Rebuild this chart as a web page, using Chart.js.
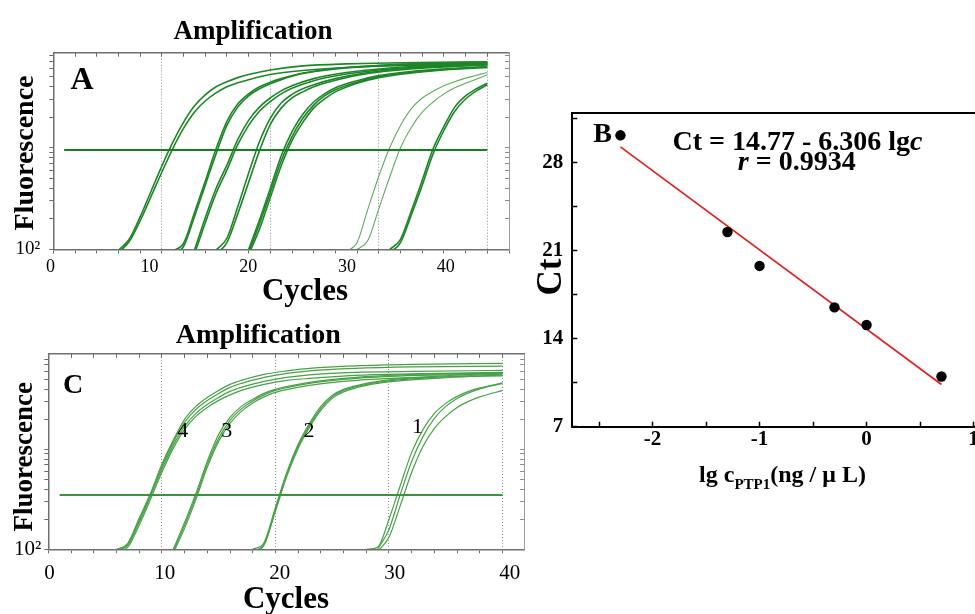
<!DOCTYPE html>
<html>
<head>
<meta charset="utf-8">
<script src="https://cdn.jsdelivr.net/npm/chart.js@4.4.1/dist/chart.umd.min.js"></script>
<style>
  html, body { margin: 0; padding: 0; background: #ffffff; }
  body { width: 975px; height: 614px; position: relative; overflow: hidden; }
  canvas { position: absolute; }
</style>
</head>
<body>
<canvas id="chartA" width="520" height="310" style="left:0px;top:0px;width:520px;height:310px"></canvas>
<canvas id="chartC" width="532" height="304" style="left:0px;top:310px;width:532px;height:304px"></canvas>
<canvas id="chartB" width="465" height="460" style="left:520px;top:60px;width:465px;height:460px"></canvas>
<script>
// ---------------- DATA ----------------
// Panel A: amplification curves, each point = [cycle, fluorescence]
const ampA_ct11 = [
  [[6,98],[7,126],[8,209],[9,372],[10,661],[11,1122],[12,1778],[13,2570],[14,3311],[15,3981],[16,4467],[17,4898],[18,5248],[20,5821],[23,6383],[27,6683],[32,6839],[40,6998]],
  [[6,93],[7,120],[8,191],[9,331],[10,575],[11,977],[12,1549],[13,2239],[14,2884],[15,3467],[16,3981],[17,4365],[18,4677],[20,5248],[23,5754],[27,6166],[32,6457],[40,6683]]
];
const ampA_ct15 = [
  [[11,97],[12,115],[13,229],[14,468],[15,977],[16,1820],[17,2692],[18,3388],[19,3981],[20,4416],[21,4786],[23,5433],[26,6026],[30,6457],[35,6761],[40,6918]],
  [[11,90],[12,107],[13,209],[14,427],[15,871],[16,1660],[17,2512],[18,3236],[19,3802],[20,4266],[21,4677],[23,5370],[26,5957],[30,6383],[35,6683],[40,6839]]
];
const ampA_ct17 = [
  [[13,98],[14,204],[15,398],[16,676],[17,1202],[18,1862],[19,2512],[20,3090],[21,3631],[22,4074],[24,4786],[27,5495],[31,6095],[35,6457],[40,6761]],
  [[13,89],[14,182],[15,355],[16,603],[17,1072],[18,1660],[19,2291],[20,2851],[21,3388],[22,3846],[24,4571],[27,5309],[31,5957],[35,6310],[40,6607]]
];
const ampA_ct19 = [
  [[15,99],[16,129],[17,263],[18,562],[19,1148],[20,1950],[21,2754],[22,3350],[23,3802],[24,4169],[26,4786],[29,5495],[33,6095],[37,6457],[40,6683]],
  [[15,90],[16,117],[17,224],[18,457],[19,933],[20,1698],[21,2455],[22,3090],[23,3548],[24,3981],[26,4624],[29,5370],[33,5957],[37,6310],[40,6531]]
];
const ampA_ct22 = [
  [[18,100],[19,195],[20,398],[21,832],[22,1445],[23,2138],[24,2818],[25,3388],[26,3890],[28,4571],[30,5129],[33,5623],[36,5957],[40,6310]],
  [[18,94],[19,178],[20,363],[21,741],[22,1288],[23,1950],[24,2630],[25,3236],[26,3715],[28,4416],[30,5012],[33,5495],[36,5888],[40,6237]],
  [[18,89],[19,158],[20,324],[21,661],[22,1175],[23,1778],[24,2455],[25,3020],[26,3548],[28,4315],[30,4898],[33,5433],[36,5821],[40,6166]]
];
const ampA_ct31 = [
  [[27,95],[28,117],[29,251],[30,525],[31,1000],[32,1660],[33,2427],[34,3090],[35,3589],[36,4074],[37,4467],[38,4842],[40,5495]],
  [[28,100],[29,123],[30,251],[31,513],[32,1000],[33,1585],[34,2239],[35,2818],[36,3388],[37,3890],[38,4315],[40,5188]]
];
const ampA_ct35 = [
  [[31,100],[32,126],[33,240],[34,479],[35,977],[36,1622],[37,2512],[38,3236],[39,3802],[40,4315]],
  [[31,93],[32,117],[33,219],[34,427],[35,871],[36,1479],[37,2291],[38,3020],[39,3631],[40,4169]]
];
const thresholdA = 950;
const thresholdSpanA = [1, 40];

// Panel C: amplification curves (groups labelled 4, 3, 2, 1)
const ampC_curve4 = [
  [[6,100],[7,115],[8,204],[9,363],[10,708],[11,1230],[12,1995],[13,2692],[14,3311],[15,3890],[16,4467],[17,4898],[19,5623],[21,6095],[23,6457],[27,6839],[32,7079],[40,7244]],
  [[6,98],[7,112],[8,195],[9,355],[10,676],[11,1175],[12,1862],[13,2512],[14,3090],[15,3631],[16,4169],[17,4571],[19,5248],[21,5754],[23,6095],[27,6457],[32,6683],[40,6808]],
  [[6,96],[7,110],[8,186],[9,339],[10,631],[11,1096],[12,1698],[13,2291],[14,2818],[15,3311],[16,3802],[17,4169],[19,4786],[21,5248],[23,5559],[27,5888],[32,6026],[40,6166]],
  [[6,93],[7,105],[8,174],[9,316],[10,589],[11,1023],[12,1585],[13,2138],[14,2630],[15,3090],[16,3508],[17,3890],[19,4467],[21,4898],[23,5129],[27,5495],[32,5689],[40,5888]]
];
const ampC_curve3 = [
  [[11,100],[12,186],[13,363],[14,759],[15,1413],[16,2089],[17,2692],[18,3162],[19,3631],[20,3981],[23,4677],[26,5129],[30,5495],[35,5689],[40,5834]],
  [[11,95],[12,174],[13,339],[14,708],[15,1288],[16,1950],[17,2541],[18,3055],[19,3508],[20,3890],[23,4571],[26,5012],[30,5370],[35,5559],[40,5689]],
  [[11,92],[12,162],[13,316],[14,661],[15,1202],[16,1820],[17,2399],[18,2917],[19,3350],[20,3715],[23,4365],[26,4786],[30,5129],[35,5309],[40,5433]]
];
const ampC_curve2 = [
  [[18,100],[19,117],[20,263],[21,589],[22,1122],[23,1820],[24,2692],[25,3467],[26,3981],[28,4571],[30,4955],[34,5370],[40,5821]],
  [[18,96],[19,112],[20,251],[21,562],[22,1072],[23,1738],[24,2570],[25,3350],[26,3890],[28,4467],[30,4842],[34,5248],[40,5689]],
  [[18,93],[19,110],[20,240],[21,537],[22,1023],[23,1660],[24,2455],[25,3236],[26,3758],[28,4365],[30,4732],[34,5129],[40,5559]]
];
const ampC_curve1 = [
  [[28,100],[29,105],[30,200],[31,437],[32,933],[33,1585],[34,2291],[35,2884],[36,3388],[37,3802],[38,4121],[40,4624]],
  [[29,100],[30,158],[31,355],[32,759],[33,1349],[34,2042],[35,2692],[36,3236],[37,3673],[38,4027],[40,4571]],
  [[29,95],[30,132],[31,275],[32,589],[33,1072],[34,1622],[35,2138],[36,2630],[37,3020],[38,3350],[40,3890]]
];
const curveLabelsC = ['4', '3', '2', '1'];
const thresholdC = 350;
const thresholdSpanC = [1, 40];

// Shared cycle axis ticks / labels
const cycleTickMarksA = [0,2,4,6,8,10,12,14,16,18,20,22,24,26,28,30,32,34,36,38,40,42];
const cycleTickMarksC = [0,2,4,6,8,10,12,14,16,18,20,22,24,26,28,30,32,34,36,38,40];
const cycleTickLabels = [0, 10, 20, 30, 40];
const fluorTicks = [100,200,300,400,500,600,700,800,900,1000,2000,3000,4000,5000,6000,7000,8000];

// Panel B: standard curve
const lgc = [-2.3, -1.3, -1, -0.3, 0, 0.7];
const ctValues = [30.2, 22.5, 19.8, 16.5, 15.1, 11.0];
const fitIntercept = 14.77;
const fitSlope = -6.306;
const fitRange = [-2.3, 0.7];
const lgcTicks = [-2, -1, 0, 1];
const lgcMinorTicks = [-2.5, -1.5, -0.5, 0.5];
const ctTicks = [7, 14, 21, 28];
const ctMinorTicks = [10.5, 17.5, 24.5, 31.5];

// ---------------- HELPERS ----------------
const serif = '"Liberation Serif", "Times New Roman", serif';
Chart.defaults.font.family = serif;
Chart.defaults.color = '#000';

function curveSets(groups, color, width) {
  const out = [];
  groups.forEach(g => g.forEach(c => out.push({
    data: c.map(p => ({ x: p[0], y: p[1] })),
    borderColor: color, borderWidth: width, pointRadius: 0,
    cubicInterpolationMode: 'monotone', fill: false
  })));
  return out;
}
function thresholdSet(level, span, color, width) {
  return { data: span.map(x => ({ x, y: level })), borderColor: color, borderWidth: width, pointRadius: 0, fill: false };
}
function textPlugin(id, items) {
  return {
    id,
    afterDraw(chart) {
      const ctx = chart.ctx;
      items.forEach(it => {
        ctx.save();
        ctx.translate(it.x, it.y);
        if (it.rotate) ctx.rotate(it.rotate);
        ctx.fillStyle = it.color || '#000';
        ctx.textBaseline = 'alphabetic';
        ctx.textAlign = 'left';
        const parts = it.parts || [{ text: it.text, font: it.font }];
        const widths = parts.map(p => { ctx.font = p.font; return ctx.measureText(p.text).width; });
        const total = widths.reduce((a, b) => a + b, 0);
        let x0 = it.align === 'left' ? 0 : -total / 2;
        parts.forEach((p, i) => { ctx.font = p.font; ctx.fillText(p.text, x0, p.dy || 0); x0 += widths[i]; });
        ctx.restore();
      });
    }
  };
}
const setTicks = vals => ax => { ax.ticks = vals.map(v => ({ value: v })); };

function cycleAxis(max, marks) {
  return {
    type: 'linear', position: 'bottom', min: 0, max, bounds: 'data',
    afterBuildTicks: setTicks(marks),
    ticks: { display: false },
    grid: {
      drawOnChartArea: true, drawTicks: true, tickLength: 4, tickWidth: 1, tickColor: '#6a6a6a', lineWidth: 1,
      color: c => (c.tick && c.tick.value > 0 && c.tick.value % 10 === 0) ? '#8f8f8f' : 'rgba(0,0,0,0)'
    },
    border: { display: true, color: '#707070', width: 1.5, dash: [1, 2] },
    afterFit: s => { s.height = 0; }
  };
}
function labelAxis(min, max, size, pad, height) {
  return {
    type: 'linear', position: 'bottom', min, max, bounds: 'data',
    afterBuildTicks: setTicks(cycleTickLabels),
    ticks: { autoSkip: false, maxRotation: 0, minRotation: 0, padding: pad, color: '#000',
             font: { family: serif, size }, callback: v => String(v) },
    grid: { display: false, drawTicks: false },
    border: { display: false },
    afterFit: s => { s.height = height; }
  };
}
function topAxis(max, marks, height) {
  return {
    type: 'linear', position: 'top', min: 0, max, bounds: 'data',
    afterBuildTicks: setTicks(marks),
    ticks: { display: false },
    grid: { drawOnChartArea: false, drawTicks: true, tickLength: -4, tickColor: '#6a6a6a', tickWidth: 1 },
    border: { color: '#707070', width: 1.5 },
    afterFit: s => { s.height = height; }
  };
}
function fluorAxis(max, size, pad, width) {
  return {
    type: 'logarithmic', position: 'left', min: 100, max, bounds: 'data',
    afterBuildTicks: setTicks(fluorTicks.filter(v => v < max)),
    ticks: { autoSkip: false, padding: pad, color: '#000', font: { family: serif, size },
             callback: v => (v === 100 ? '10²' : '') },
    grid: { drawOnChartArea: false, drawTicks: true, tickLength: 4, tickColor: '#6a6a6a', tickWidth: 1 },
    border: { color: '#707070', width: 1.5 },
    afterFit: s => { s.width = width; }
  };
}
function rightAxis(max, width) {
  return {
    type: 'logarithmic', position: 'right', min: 100, max, bounds: 'data',
    afterBuildTicks: setTicks(fluorTicks.filter(v => v < max)),
    ticks: { display: false },
    grid: { drawOnChartArea: false, drawTicks: true, tickLength: -4, tickColor: '#8a8a8a', tickWidth: 1 },
    border: { color: '#9a9a9a', width: 1 },
    afterFit: s => { s.width = width; }
  };
}
const baseOptions = {
  responsive: false, animation: false, events: [],
  layout: { padding: 0 },
  plugins: { legend: { display: false }, tooltip: { enabled: false }, title: { display: false } }
};

// ---------------- PANEL A ----------------
const textsA = [
  { text: 'Amplification', x: 253, y: 39, font: `bold 27px ${serif}` },
  { text: 'A', x: 82, y: 88.5, font: `bold 32px ${serif}` },
  { text: 'Fluorescence', x: 33, y: 153, rotate: -Math.PI / 2, font: `bold 28px ${serif}` },
  { text: 'Cycles', x: 305, y: 300, font: `bold 31px ${serif}` }
];
new Chart(document.getElementById('chartA'), {
  type: 'line',
  data: { datasets: [
    thresholdSet(thresholdA, thresholdSpanA, 'rgb(22,128,30)', 2),
    ...curveSets([ampA_ct11, ampA_ct15, ampA_ct17, ampA_ct19, ampA_ct22], 'rgb(30,134,40)', 1.6),
    ...curveSets([ampA_ct31], 'rgb(96,170,96)', 1.1),
    ...curveSets([ampA_ct35], 'rgb(30,134,40)', 1.6)
  ]},
  options: Object.assign({}, baseOptions, {
    scales: {
      x: cycleAxis(42, cycleTickMarksA),
      xl: labelAxis(0.273, 46.40, 18, 6.7, 60.5),
      xt: topAxis(42, cycleTickMarksA, 52.7),
      y: fluorAxis(8610, 19, 9, 53.3),
      yr: rightAxis(8610, 11)
    }
  }),
  plugins: [textPlugin('textsA', textsA)]
});

// ---------------- PANEL C ----------------
const curveLabelPosC = [[182.8, 126.7], [226.7, 126.7], [309, 126.7], [417.5, 123.3]];
const textsC = [
  { text: 'Amplification', x: 258.3, y: 33.3, font: `bold 28px ${serif}` },
  { text: 'C', x: 73, y: 82.5, font: `bold 28px ${serif}` },
  { text: 'Fluorescence', x: 31.7, y: 146.7, rotate: -Math.PI / 2, font: `bold 27px ${serif}` },
  { text: 'Cycles', x: 286, y: 298, font: `bold 31px ${serif}` },
  ...curveLabelsC.map((t, i) => ({ text: t, x: curveLabelPosC[i][0], y: curveLabelPosC[i][1], font: `22px ${serif}` }))
];
new Chart(document.getElementById('chartC'), {
  type: 'line',
  data: { datasets: [
    thresholdSet(thresholdC, thresholdSpanC, 'rgb(52,150,52)', 2),
    ...curveSets([ampC_curve4, ampC_curve3, ampC_curve2, ampC_curve1], 'rgb(72,160,72)', 1.2)
  ]},
  options: Object.assign({}, baseOptions, {
    scales: {
      x: cycleAxis(41.9, cycleTickMarksC),
      xl: labelAxis(-0.113, 41.24, 21, 11.4, 64.7),
      xt: topAxis(41.9, cycleTickMarksC, 44),
      y: fluorAxis(9000, 21, 3, 48.3),
      yr: rightAxis(9000, 6.5)
    }
  }),
  plugins: [textPlugin('textsC', textsC)]
});

// ---------------- PANEL B ----------------
const textsB = [
  { text: 'B', x: 82.5, y: 81.7, font: `bold 28px ${serif}` },
  { parts: [ { text: 'Ct = 14.77 - 6.306 lg', font: `bold 28px ${serif}` }, { text: 'c', font: `italic bold 28px ${serif}` } ], x: 277.5, y: 90 },
  { parts: [ { text: 'r', font: `italic bold 28px ${serif}` }, { text: ' = 0.9934', font: `bold 28px ${serif}` } ], x: 276.7, y: 110 },
  { text: 'Ct', x: 41, y: 217, rotate: -Math.PI / 2, font: `bold 35px ${serif}` },
  { parts: [ { text: 'lg c', font: `bold 24px ${serif}` }, { text: 'PTP1', font: `bold 15px ${serif}`, dy: 7 }, { text: '(ng / \u03bc L)', font: `bold 24px ${serif}` } ], x: 262.5, y: 421.7 }
];
const bTickFont = { family: serif, size: 21, weight: 'bold' };
new Chart(document.getElementById('chartB'), {
  type: 'line',
  data: { datasets: [
    { data: lgc.map((x, i) => ({ x, y: ctValues[i] })), showLine: false, pointRadius: 5.2,
      pointBackgroundColor: '#000', pointBorderColor: '#000', borderColor: '#000', pointBorderWidth: 0 },
    { data: fitRange.map(x => ({ x, y: fitIntercept + fitSlope * x })), borderColor: 'rgb(226,32,32)',
      borderWidth: 1.7, pointRadius: 0, fill: false }
  ]},
  options: Object.assign({}, baseOptions, {
    scales: {
      x: {
        type: 'linear', position: 'bottom', min: -2.75, max: 1.02, bounds: 'data',
        afterBuildTicks: setTicks([...lgcMinorTicks, ...lgcTicks].sort((a, b) => a - b)),
        ticks: { autoSkip: false, maxRotation: 0, padding: 5.7, color: '#000', font: bTickFont,
                 callback: v => (lgcTicks.includes(v) ? String(v) : '') },
        grid: { drawOnChartArea: false, drawTicks: true, tickLength: -5, tickColor: '#000', tickWidth: 1.5 },
        border: { color: '#000', width: 2 },
        afterFit: s => { s.height = 93.3; }
      },
      xt: {
        type: 'linear', position: 'top', min: -2.75, max: 1.02, bounds: 'data',
        ticks: { display: false }, grid: { display: false },
        border: { color: '#000', width: 2 },
        afterFit: s => { s.height = 52.7; }
      },
      y: {
        type: 'linear', position: 'left', min: 7, max: 32, bounds: 'data',
        afterBuildTicks: setTicks([...ctTicks, ...ctMinorTicks].sort((a, b) => a - b)),
        ticks: { autoSkip: false, padding: 14, color: '#000', font: bTickFont,
                 callback: v => (ctTicks.includes(v) ? String(v) : '') },
        grid: { drawOnChartArea: false, drawTicks: true, tickLength: -5, tickColor: '#000', tickWidth: 1.5 },
        border: { color: '#000', width: 2 },
        afterFit: s => { s.width = 52.3; }
      },
      yr: {
        type: 'linear', position: 'right', min: 7, max: 32, bounds: 'data',
        ticks: { display: false }, grid: { display: false },
        border: { color: '#000', width: 2 },
        afterFit: s => { s.width = 9.3; }
      }
    }
  }),
  plugins: [textPlugin('textsB', textsB)]
});
</script>
</body>
</html>
